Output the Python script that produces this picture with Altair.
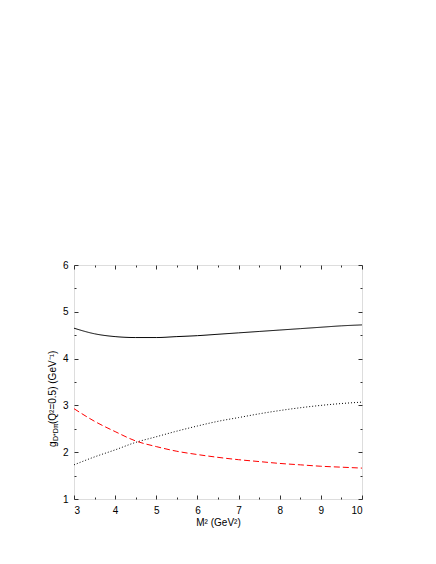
import altair as alt
import pandas as pd

# ---- data ----
m2 = [3.0, 3.5, 4.0, 4.5, 5.0, 5.5, 6.0, 6.5, 7.0, 7.5, 8.0, 8.5, 9.0, 9.5, 10.0]
solid = [4.65, 4.53, 4.47, 4.45, 4.45, 4.47, 4.49, 4.52, 4.55, 4.58, 4.61, 4.64, 4.67, 4.70, 4.72]
dotted = [1.73, 1.90, 2.05, 2.21, 2.33, 2.45, 2.56, 2.66, 2.74, 2.82, 2.89, 2.95, 3.00, 3.04, 3.07]
dashed = [2.93, 2.66, 2.44, 2.24, 2.12, 2.02, 1.95, 1.89, 1.84, 1.80, 1.76, 1.73, 1.70, 1.68, 1.66]

series_names = ["total", "dotted", "dashed"]
x_labels = [3, 4, 5, 6, 7, 8, 9, 10]
y_labels = [1, 2, 3, 4, 5, 6]
x_ticks = [3.0, 3.5, 4.0, 4.5, 5.0, 5.5, 6.0, 6.5, 7.0, 7.5, 8.0, 8.5, 9.0, 9.5, 10.0]
y_ticks = [1.0, 1.5, 2.0, 2.5, 3.0, 3.5, 4.0, 4.5, 5.0, 5.5, 6.0]
xdom = [3, 10]
ydom = [1, 6]

rows = []
for name, vals in zip(series_names, [solid, dotted, dashed]):
    for x, v in zip(m2, vals):
        rows.append({"m2": x, "g": v, "s": name})
df = pd.DataFrame(rows)

W, H = 288, 234
FONT = "Liberation Sans"
FRAME = "#333333"

tick_size = {"condition": {"test": "datum.value % 1 === 0", "value": 4}, "value": 2}

base = alt.Chart(df)

lines = base.mark_line(strokeWidth=1, interpolate="monotone").encode(
    x=alt.X("m2:Q", scale=alt.Scale(domain=xdom, nice=False, zero=False),
            axis=alt.Axis(orient="bottom", values=x_labels, ticks=False, tickSize=0,
                          domain=False, grid=False, labelPadding=6,
                          labelFont=FONT, labelFontSize=10, labelColor="black",
                          title="M² (GeV²)", titleFont=FONT, titleFontSize=10,
                          titleFontWeight="normal", titleColor="black", titlePadding=2)),
    y=alt.Y("g:Q", scale=alt.Scale(domain=ydom, nice=False, zero=False),
            axis=alt.Axis(orient="left", values=y_labels, ticks=False, tickSize=0,
                          domain=False, grid=False, labelPadding=6,
                          labelFont=FONT, labelFontSize=10, labelColor="black",
                          title=None)),
    color=alt.Color("s:N", scale=alt.Scale(domain=series_names, range=["black", "black", "red"]),
                    legend=None),
    strokeDash=alt.StrokeDash("s:N", scale=alt.Scale(domain=series_names,
                                                     range=[[1, 0], [1, 2], [6, 3]]),
                              legend=None),
)

ticks_a = base.mark_line(opacity=0).encode(
    x=alt.X("m2:Q", scale=alt.Scale(domain=xdom, nice=False, zero=False),
            axis=alt.Axis(orient="top", offset=-H, values=x_ticks, labels=False,
                          domain=False, grid=False, tickSize=tick_size,
                          tickColor=FRAME, title=None)),
    y=alt.Y("g:Q", scale=alt.Scale(domain=ydom, nice=False, zero=False),
            axis=alt.Axis(orient="right", offset=-W, values=y_ticks, labels=False,
                          domain=False, grid=False, tickSize=tick_size,
                          tickColor=FRAME, title=None)),
    detail="s:N",
)

ticks_b = base.mark_line(opacity=0).encode(
    x=alt.X("m2:Q", scale=alt.Scale(domain=xdom, nice=False, zero=False),
            axis=alt.Axis(orient="bottom", offset=-H, values=x_ticks, labels=False,
                          domain=False, grid=False, tickSize=tick_size,
                          tickColor=FRAME, title=None)),
    y=alt.Y("g:Q", scale=alt.Scale(domain=ydom, nice=False, zero=False),
            axis=alt.Axis(orient="left", offset=-W, values=y_ticks, labels=False,
                          domain=False, grid=False, tickSize=tick_size,
                          tickColor=FRAME, title=None)),
    detail="s:N",
)

# y-axis title built from pieces (main text, subscript)
t_g = alt.Chart(pd.DataFrame({"t": ["g"]})).mark_text(
    angle=270, align="left", baseline="middle", fontSize=10, font=FONT, color="black"
).encode(x=alt.value(-21), y=alt.value(182), text="t:N")
t_sub = alt.Chart(pd.DataFrame({"t": ["D*Dπ"]})).mark_text(
    angle=270, align="left", baseline="middle", fontSize=7, font=FONT, color="black"
).encode(x=alt.value(-18), y=alt.value(176), text="t:N")
t_main = alt.Chart(pd.DataFrame({"t": ["(Q²=0.5) (GeV⁻¹)"]})).mark_text(
    angle=270, align="left", baseline="middle", fontSize=10, font=FONT, color="black"
).encode(x=alt.value(-21), y=alt.value(159), text="t:N")

chart = alt.layer(lines, ticks_a, ticks_b, t_g, t_sub, t_main).resolve_scale(
    x="independent", y="independent"
).properties(
    width=W, height=H,
    autosize=alt.AutoSizeParams(type="none"),
    padding={"left": 66, "top": 257, "right": 60, "bottom": 50},
).configure_view(stroke=FRAME, strokeWidth=1).configure(background="white")

chart.save("out.html", embed_options={"renderer": "svg", "actions": False})
